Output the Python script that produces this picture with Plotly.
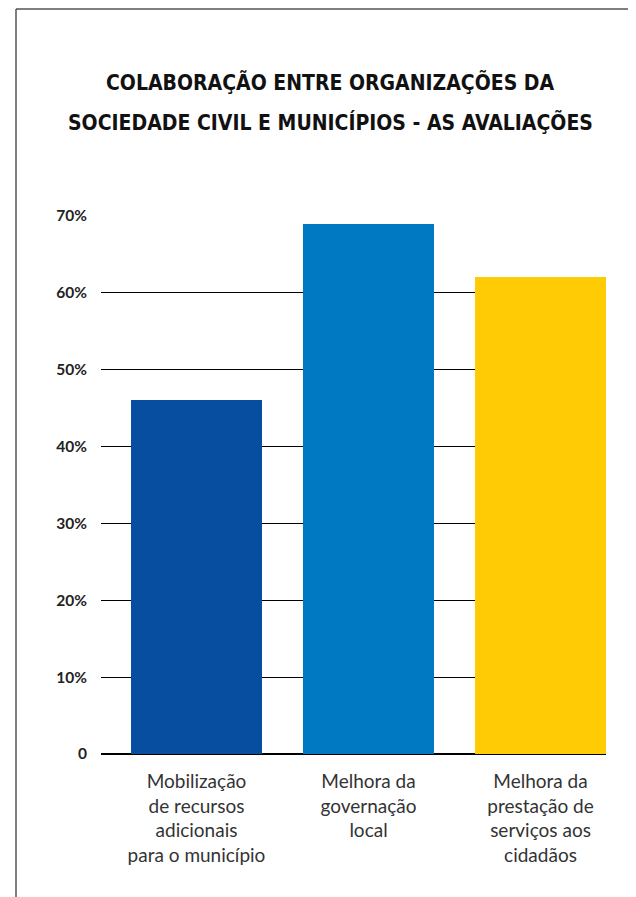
import plotly.graph_objects as go

categories = ["Mobilização<br>de recursos<br>adicionais<br>para o município",
              "Melhora da<br>governação<br>local",
              "Melhora da<br>prestação de<br>serviços aos<br>cidadãos"]
values = [46, 69, 62]
colors = ["#074EA0", "#0079C2", "#FECB05"]
tick_vals = [0, 10, 20, 30, 40, 50, 60, 70]
tick_text = ["0", "10%", "20%", "30%", "40%", "50%", "60%", "70%"]
title_lines = ["COLABORAÇÃO ENTRE ORGANIZAÇÕES DA",
               "SOCIEDADE CIVIL E MUNICÍPIOS - AS AVALIAÇÕES"]

OFF = 8  # page body margin
W, H = 636 - OFF, 897 - OFF
L, R, T, B = 101 - OFF, 606 - OFF, 216 - OFF, 754 - OFF

fig = go.Figure(go.Bar(
    x=[0, 1, 2], y=values, marker=dict(color=colors, line=dict(width=0)),
    width=131 / 172, hoverinfo="skip",
))

def px_to_paper_x(px):
    return (px - OFF - L) / (R - L)

def px_to_paper_y(py):
    return (B - (py - OFF)) / (B - T)

title_annotations = [
    dict(text=line, xref="paper", yref="paper",
         x=px_to_paper_x(330), y=px_to_paper_y(yc),
         xanchor="center", yanchor="middle", showarrow=False,
         font=dict(family="DejaVu Sans Condensed", size=21, color="#111111", weight="bold"))
    for line, yc in zip(title_lines, [82, 122])
]

fig.update_layout(
    width=W, height=H,
    margin=dict(l=L, r=W - R, t=T, b=H - B, pad=0),
    paper_bgcolor="white", plot_bgcolor="white",
    showlegend=False,
    bargap=0,
    xaxis=dict(
        range=[2 + 65.5 / 172 - (R - L) / 172, 2 + 65.5 / 172],
        tickvals=[0, 1, 2], ticktext=categories,
        tickfont=dict(family="Lato", size=19, color="#333333"),
        showgrid=False, zeroline=False, showline=False, ticks="",
        ticklabelstandoff=14,
        fixedrange=True,
    ),
    yaxis=dict(
        range=[0, 70],
        tickvals=tick_vals, ticktext=tick_text,
        tickfont=dict(family="Lato", size=15.5, color="#222222", weight="bold"),
        showgrid=True, gridcolor="#000000", gridwidth=1.4,
        zeroline=True, zerolinecolor="#000000", zerolinewidth=1.6,
        showline=False, ticks="", ticklabelstandoff=13,
        fixedrange=True,
    ),
    annotations=title_annotations,
    shapes=[
        dict(type="line", xref="paper", yref="paper",
             x0=px_to_paper_x(16), x1=px_to_paper_x(16),
             y0=px_to_paper_y(9), y1=px_to_paper_y(905),
             line=dict(color="#555555", width=1.5)),
        dict(type="line", xref="paper", yref="paper",
             x0=px_to_paper_x(16), x1=px_to_paper_x(640),
             y0=px_to_paper_y(9), y1=px_to_paper_y(9),
             line=dict(color="#555555", width=1.5)),
    ],
)

fig.write_html("out.html")
